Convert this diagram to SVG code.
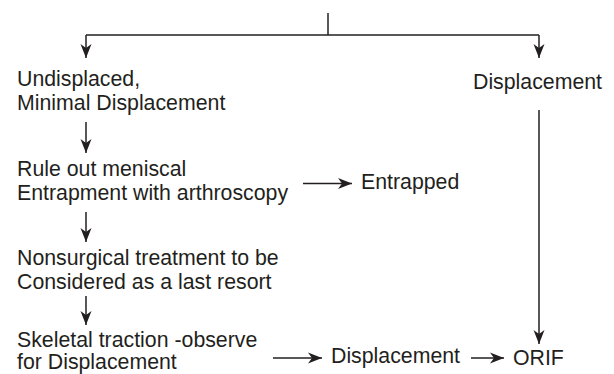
<svg xmlns="http://www.w3.org/2000/svg" width="614" height="374" viewBox="0 0 614 374">
  <defs>
    <marker id="arr" markerUnits="userSpaceOnUse" markerWidth="18" markerHeight="14" viewBox="-16 -7 18 14" refX="0" refY="0" orient="auto">
      <path d="M0,0 L-14,-5.5 L-10,0 L-14,5.5 Z" fill="#231f20"/>
    </marker>
    <style>
      .t { font-family: "Liberation Sans", Arial, sans-serif; font-size: 21.3px; fill: #231f20; }
      .c { stroke: #231f20; stroke-width: 1.5; fill: none; }
      .a { marker-end: url(#arr); }
    </style>
  </defs>
  <rect width="614" height="374" fill="#ffffff"/>
  <g id="connectors">
    <line class="c" x1="328" y1="13" x2="328" y2="35"/>
    <polyline class="c" points="86,35 539,35"/>
    <line class="c a" x1="86" y1="35" x2="86" y2="58"/>
    <line class="c a" x1="539" y1="35" x2="539" y2="58"/>
    <line class="c a" x1="539" y1="110" x2="539" y2="344"/>
    <line class="c a" x1="86" y1="122" x2="86" y2="153"/>
    <line class="c a" x1="303" y1="183.5" x2="352" y2="183.5"/>
    <line class="c a" x1="86" y1="212" x2="86" y2="242"/>
    <line class="c a" x1="86" y1="296" x2="86" y2="325"/>
    <line class="c a" x1="273" y1="358" x2="322" y2="358"/>
    <line class="c a" x1="471" y1="358" x2="504" y2="358"/>
  </g>
  <g id="undisplaced">
    <text class="t" x="17" y="86">Undisplaced,</text>
    <text class="t" x="17" y="110">Minimal Displacement</text>
  </g>
  <g id="displacement-top">
    <text class="t" x="473" y="89">Displacement</text>
  </g>
  <g id="rule-out">
    <text class="t" x="17" y="176">Rule out meniscal</text>
    <text class="t" x="17" y="200">Entrapment with arthroscopy</text>
  </g>
  <g id="entrapped">
    <text class="t" x="361" y="189">Entrapped</text>
  </g>
  <g id="nonsurgical">
    <text class="t" x="17" y="265">Nonsurgical treatment to be</text>
    <text class="t" x="17" y="289">Considered as a last resort</text>
  </g>
  <g id="skeletal">
    <text class="t" x="17" y="347">Skeletal traction -observe</text>
    <text class="t" x="17" y="369">for Displacement</text>
  </g>
  <g id="displacement-bottom">
    <text class="t" x="331" y="363">Displacement</text>
  </g>
  <g id="orif">
    <text class="t" x="513" y="365">ORIF</text>
  </g>
</svg>
